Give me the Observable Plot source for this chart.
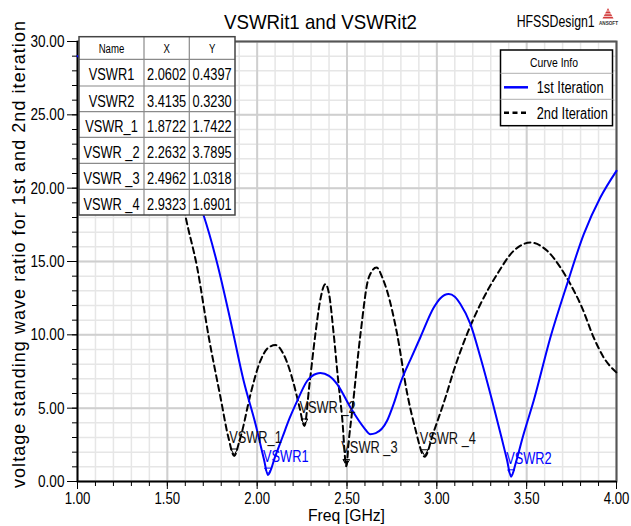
<!DOCTYPE html>
<html><head><meta charset="utf-8">
<script src="https://cdn.jsdelivr.net/npm/d3@7"></script>
<script src="https://cdn.jsdelivr.net/npm/@observablehq/plot@0.6"></script>
<style>
html,body{margin:0;padding:0;background:#fff;}
#chart{position:relative;width:631px;height:526px;}
</style></head><body><div id="chart"></div>
<script>
// ---- data ----
const freq1 = [1.00, 1.15, 1.30, 1.45, 1.58, 1.703, 1.777, 1.851, 1.925, 1.991, 2.037, 2.0602, 2.10, 2.14, 2.18, 2.223, 2.278, 2.33, 2.352, 2.40, 2.445, 2.519, 2.594, 2.63, 2.66, 2.723, 2.76, 2.797, 2.86, 2.908, 2.983, 3.02, 3.066, 3.10, 3.131, 3.187, 3.243, 3.308, 3.36, 3.39, 3.4135, 3.44, 3.48, 3.539, 3.632, 3.725, 3.818, 3.910, 4.00];
const vswr1 = [29.0, 27.9, 26.4, 24.2, 21.4, 18.1, 14.9, 11.0, 6.85, 3.9, 1.55, 0.4397, 1.7, 3.0, 4.3, 5.5, 6.85, 7.35, 7.39, 7.2, 6.64, 5.05, 3.68, 3.23, 3.3, 4.14, 5.3, 6.7, 8.5, 9.82, 11.86, 12.5, 12.78, 12.6, 12.1, 10.73, 8.45, 5.5, 3.0, 1.5, 0.3230, 1.3, 3.1, 5.5, 9.82, 13.46, 16.87, 19.36, 21.18];
const freq2 = [1.45, 1.53, 1.601, 1.666, 1.731, 1.796, 1.84, 1.8722, 1.90, 1.917, 1.963, 2.018, 2.06, 2.102, 2.15, 2.204, 2.235, 2.2632, 2.29, 2.324, 2.35, 2.380, 2.40, 2.426, 2.45, 2.473, 2.4962, 2.51, 2.529, 2.575, 2.621, 2.664, 2.70, 2.723, 2.779, 2.835, 2.88, 2.9323, 2.98, 3.048, 3.094, 3.168, 3.243, 3.336, 3.428, 3.521, 3.614, 3.688, 3.743, 3.808, 3.873, 3.929, 4.00];
const vswr2 = [28.0, 23.0, 18.1, 14.59, 9.82, 5.73, 3.0, 1.7422, 2.7, 3.46, 5.96, 8.23, 9.1, 9.30, 8.6, 6.64, 5.1, 3.7895, 6.5, 10.05, 12.3, 13.46, 12.8, 10.05, 7.0, 4.36, 1.0318, 2.8, 4.82, 10.05, 13.9, 14.59, 13.8, 13.0, 10.05, 6.0, 3.6, 1.6901, 3.3, 5.73, 7.55, 10.05, 12.1, 14.14, 15.73, 16.29, 15.73, 14.59, 13.46, 11.86, 9.82, 8.45, 7.43];
const markerNames = ["VSWR1", "VSWR2", "VSWR_1", "VSWR _2", "VSWR _3", "VSWR _4"];
const markerX = [2.0602, 3.4135, 1.8722, 2.2632, 2.4962, 2.9323];
const markerY = [0.4397, 0.3230, 1.7422, 3.7895, 1.0318, 1.6901];
const markerSeries = ["1st", "1st", "2nd", "2nd", "2nd", "2nd"];
const seriesNames = ["1st Iteration", "2nd Iteration"];
const xTicks = [1.0, 1.5, 2.0, 2.5, 3.0, 3.5, 4.0];
const yTicks = [0, 5, 10, 15, 20, 25, 30];
const titleText = "VSWRit1 and VSWRit2";
const designText = "HFSSDesign1";
const xLabel = "Freq [GHz]";
const yLabel = "voltage standing wave ratio for 1st and 2nd iteration";
const tableHeader = ["Name", "X", "Y"];
const legendTitle = "Curve Info";

// ---- build ----
const FONT = "'Liberation Sans Narrow','Arial Narrow','Liberation Sans',Arial,sans-serif";
const NARROW = 0.8;
const BLUE = "#0000ff";
const xMinor = d3.range(10, 41).map(i => i / 10);
const yMinor = d3.range(0, 31);
const s1 = freq1.map((f, i) => ({f, v: vswr1[i]}));
const s2 = freq2.map((f, i) => ({f, v: vswr2[i]}));
const markers = markerNames.map((n, i) => ({name: n, f: markerX[i], v: markerY[i], s: markerSeries[i]}));
const m1 = markers.filter(d => d.s === "1st");
const m2 = markers.filter(d => d.s === "2nd");

const plot = Plot.plot({
  width: 631, height: 526,
  marginLeft: 77, marginRight: 15, marginTop: 41, marginBottom: 45,
  x: {domain: [1, 4]},
  y: {domain: [0, 30]},
  style: {fontFamily: FONT, fontSize: "16px", background: "white", color: "black", overflow: "visible"},
  marks: [
    Plot.ruleX(xMinor, {stroke: "#e6e6e6", strokeWidth: 1.5}),
    Plot.ruleY(yMinor, {stroke: "#e6e6e6", strokeWidth: 1.5}),
    Plot.ruleX(xTicks, {stroke: "#cfcfcf", strokeWidth: 2}),
    Plot.ruleY(yTicks, {stroke: "#cfcfcf", strokeWidth: 2}),
    Plot.frame({stroke: "#555", strokeWidth: 2}),
    Plot.axisX({ticks: xMinor, tickSize: 5, tickFormat: () => "", label: null}),
    Plot.axisX({ticks: xTicks, tickSize: 8, tickPadding: 3, tickFormat: d => d.toFixed(2), label: null, fontSize: 16.5}),
    Plot.axisY({ticks: yMinor, tickSize: 5, tickFormat: () => "", label: null}),
    Plot.axisY({ticks: yTicks, tickSize: 10, tickPadding: 3, tickFormat: d => d.toFixed(2), label: null, fontSize: 17}),
    Plot.ruleX([1], {stroke: "black", strokeWidth: 1.5}),
    Plot.ruleY([0], {stroke: "black", strokeWidth: 1.5}),
    Plot.line(s2, {x: "f", y: "v", stroke: "black", strokeWidth: 2, strokeDasharray: "6,4", curve: "monotone-x"}),
    Plot.line(s1, {x: "f", y: "v", stroke: BLUE, strokeWidth: 2, curve: "monotone-x"}),
    Plot.dot(m2, {x: "f", y: "v", symbol: "triangle", r: 2.5, rotate: 180, dy: -5, stroke: "black", fill: "none", strokeWidth: 1}),
    Plot.dot(m1, {x: "f", y: "v", symbol: "triangle", r: 2.5, rotate: 180, dy: -5, stroke: BLUE, fill: "none", strokeWidth: 1}),
    Plot.text(m2, {x: "f", y: "v", text: "name", textAnchor: "start", lineAnchor: "bottom", dx: -5, dy: -13, fill: "#111", fontSize: 16}),
    Plot.text(m1, {x: "f", y: "v", text: "name", textAnchor: "start", lineAnchor: "bottom", dx: -5, dy: -13, fill: BLUE, fontSize: 16})
  ]
});
document.getElementById("chart").appendChild(plot);

// ---- annotations ----
const svg = d3.select(plot);
function txt(g, x, y, s, size, opts = {}) {
  const t = g.append("text").attr("x", x).attr("y", y).text(s)
    .attr("font-family", FONT).attr("font-size", size).attr("fill", opts.fill || "black")
    .attr("text-anchor", opts.anchor || "start");
  if (opts.len) t.attr("textLength", opts.len).attr("lengthAdjust", opts.adjust || "spacingAndGlyphs");
  if (opts.weight) t.attr("font-weight", opts.weight);
  return t;
}
const ann = svg.append("g");
txt(ann, 224, 29.3, titleText, 21, {len: 193});
txt(ann, 516.7, 26.7, designText, 16, {len: 78});
// logo
const logo = ann.append("g");
logo.append("path").attr("d", "M608,8 L613.5,18.5 L602.5,18.5 Z").attr("fill", "#d23a3a");
[11, 13.8, 16.4].forEach(yy => logo.append("line").attr("x1", 600).attr("x2", 616).attr("y1", yy).attr("y2", yy).attr("stroke", "#fff").attr("stroke-width", 0.8));
txt(logo, 599, 25, "ANSOFT", 5, {len: 19, weight: "bold", fill: "#333"});
// axis labels
txt(ann, 308, 521, xLabel, 17, {len: 77});
txt(ann, 0, 0, yLabel, 18, {len: 467, adjust: "spacing"}).attr("transform", "translate(25,488) rotate(-90)");

// table
const tx = [79, 144, 189.3, 235];
const ty = [36.7, 59.3, 86, 111.7, 137.3, 163.3, 189.3, 215];
const tb = ann.append("g");
tb.append("rect").attr("x", tx[0]).attr("y", ty[0]).attr("width", tx[3] - tx[0]).attr("height", ty[7] - ty[0]).attr("fill", "white");
ty.slice(1, 7).forEach(yy => tb.append("line").attr("x1", tx[0]).attr("x2", tx[3]).attr("y1", yy).attr("y2", yy).attr("stroke", "#8a8a8a").attr("stroke-width", 1.2));
tx.slice(1, 3).forEach(xx => tb.append("line").attr("x1", xx).attr("x2", xx).attr("y1", ty[0]).attr("y2", ty[7]).attr("stroke", "#8a8a8a").attr("stroke-width", 1.2));
tb.append("rect").attr("x", tx[0]).attr("y", ty[0]).attr("width", tx[3] - tx[0]).attr("height", ty[7] - ty[0]).attr("fill", "none").attr("stroke", "#444").attr("stroke-width", 1.5);
tableHeader.forEach((h, j) => txt(tb, (tx[j] + tx[j + 1]) / 2, 53.3, h, 12, {anchor: "middle"}));
markerNames.forEach((n, i) => {
  const yb = ty[i + 1] + 20.7;
  txt(tb, (tx[0] + tx[1]) / 2, yb, n, 16, {anchor: "middle"});
  txt(tb, (tx[1] + tx[2]) / 2, yb, markerX[i].toFixed(4), 16, {anchor: "middle"});
  txt(tb, (tx[2] + tx[3]) / 2, yb, markerY[i].toFixed(4), 16, {anchor: "middle"});
});

// legend
const lg = ann.append("g");
lg.append("rect").attr("x", 500.5).attr("y", 50).attr("width", 112).attr("height", 75.7).attr("fill", "white").attr("stroke", "black").attr("stroke-width", 1.5);
[73.3, 99.3].forEach(yy => lg.append("line").attr("x1", 500.5).attr("x2", 612.5).attr("y1", yy).attr("y2", yy).attr("stroke", "#b0b0b0").attr("stroke-width", 1));
txt(lg, 554, 66.5, legendTitle, 13, {anchor: "middle"});
lg.append("line").attr("x1", 504).attr("x2", 528).attr("y1", 87.3).attr("y2", 87.3).attr("stroke", BLUE).attr("stroke-width", 2.5);
txt(lg, 536.7, 93.3, seriesNames[0], 16);
lg.append("line").attr("x1", 504).attr("x2", 528).attr("y1", 112.7).attr("y2", 112.7).attr("stroke", "black").attr("stroke-width", 2.5).attr("stroke-dasharray", "5,3.5");
txt(lg, 536.7, 118.7, seriesNames[1], 16);

// condense every text that has no explicit length (no narrow font is installed)
plot.querySelectorAll("text").forEach(t => {
  if (t.hasAttribute("textLength") || !t.textContent) return;
  const w = t.getComputedTextLength();
  if (w > 0) { t.setAttribute("textLength", (w * NARROW).toFixed(2)); t.setAttribute("lengthAdjust", "spacingAndGlyphs"); }
});
</script></body></html>
